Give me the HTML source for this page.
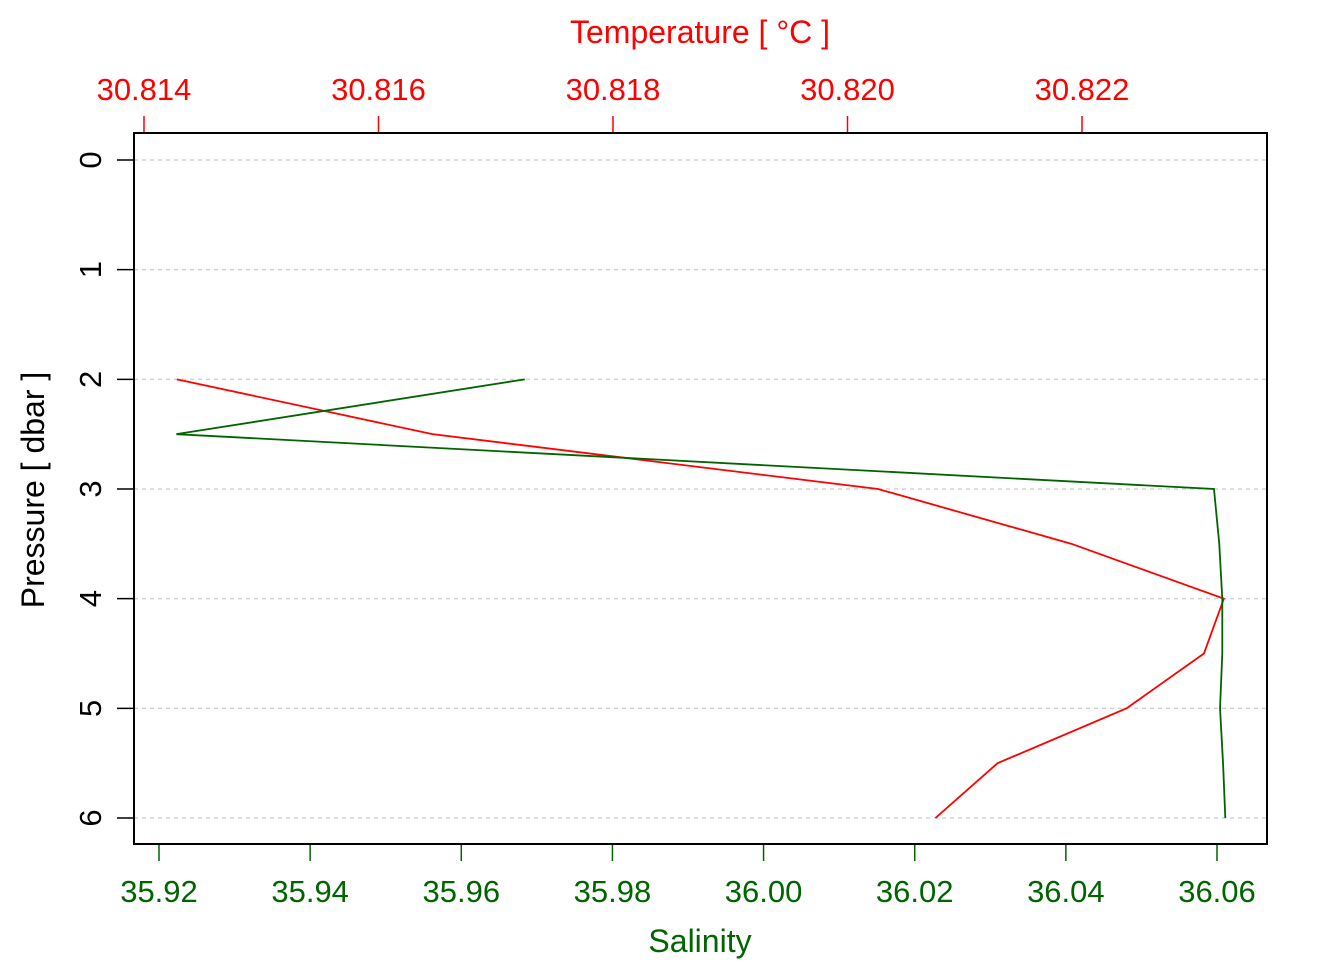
<!DOCTYPE html>
<html><head><meta charset="utf-8"><style>
body{margin:0;background:#fff}
svg text{font-family:"Liberation Sans",sans-serif}
</style></head><body>
<svg id="chart" width="1344" height="960" xmlns="http://www.w3.org/2000/svg"></svg>
<script>
const pressure=[2,2.5,3,3.5,4,4.5,5,5.5,6];
const salinity=[35.9684,35.9223,36.0596,36.0603,36.0607,36.0607,36.0604,36.0608,36.0611];
const temperature=[30.81428,30.81646,30.82026,30.82191,30.82321,30.82304,30.82238,30.82128,30.82075];
const salTicks=["35.92","35.94","35.96","35.98","36.00","36.02","36.04","36.06"];
const tempTicks=["30.814","30.816","30.818","30.820","30.822"];
const pTicks=[0,1,2,3,4,5,6];

const NS="http://www.w3.org/2000/svg";
const svg=document.getElementById('chart');
const L=134,R=1267,T=133,B=844;
const xs=v=>159+(v-35.92)*(1217-159)/0.14;
const xt=v=>144+(v-30.814)*(1082-144)/0.008;
const yp=v=>160+v*(818-160)/6;
function el(tag,attrs,name,txt){const e=document.createElementNS(NS,tag);for(const k in attrs)e.setAttribute(k,attrs[k]);


if(txt!==undefined)e.textContent=txt;svg.appendChild(e);return e;}

pTicks.forEach(p=>{
 el('line',{x1:L,x2:R,y1:yp(p),y2:yp(p),stroke:'#d3d3d3','stroke-width':1.5,'stroke-dasharray':'4,4'},'grid-line');
 el('line',{x1:L,x2:L-17,y1:yp(p),y2:yp(p),stroke:'#000','stroke-width':1.5},'y-tick');
 el('text',{x:0,y:0,transform:`translate(101,${yp(p)}) rotate(-90)`,'text-anchor':'middle','font-size':31,fill:'#000'},'y-tick-label',String(p));
});
salTicks.forEach(s=>{const x=xs(parseFloat(s));
 el('line',{x1:x,x2:x,y1:B,y2:B+17,stroke:'#006400','stroke-width':1.5},'x-bottom-tick');
 el('text',{x:x,y:902,'text-anchor':'middle','font-size':31,fill:'#006400'},'x-bottom-tick-label',s);
});
tempTicks.forEach(s=>{const x=xt(parseFloat(s));
 el('line',{x1:x,x2:x,y1:T,y2:T-17,stroke:'#ff0000','stroke-width':1.5},'x-top-tick');
 el('text',{x:x,y:100,'text-anchor':'middle','font-size':31,fill:'#ff0000'},'x-top-tick-label',s);
});
el('polyline',{points:pressure.map((p,i)=>xt(temperature[i])+','+yp(p)).join(' '),fill:'none',stroke:'#ff0000','stroke-width':1.8},'temperature-line');
el('polyline',{points:pressure.map((p,i)=>xs(salinity[i])+','+yp(p)).join(' '),fill:'none',stroke:'#006400','stroke-width':1.8},'salinity-line');
el('rect',{x:L,y:T,width:R-L,height:B-T,fill:'none',stroke:'#000','stroke-width':2},'plot-frame');
el('text',{x:700,y:952,'text-anchor':'middle','font-size':32,fill:'#006400'},'x-bottom-axis-title','Salinity');
el('text',{x:700,y:43,'text-anchor':'middle','font-size':32,fill:'#ff0000'},'x-top-axis-title','Temperature [ °C ]');
el('text',{x:0,y:0,transform:'translate(44,490) rotate(-90)','text-anchor':'middle','font-size':32,fill:'#000'},'y-axis-title','Pressure [ dbar ]');
</script>
</body></html>
